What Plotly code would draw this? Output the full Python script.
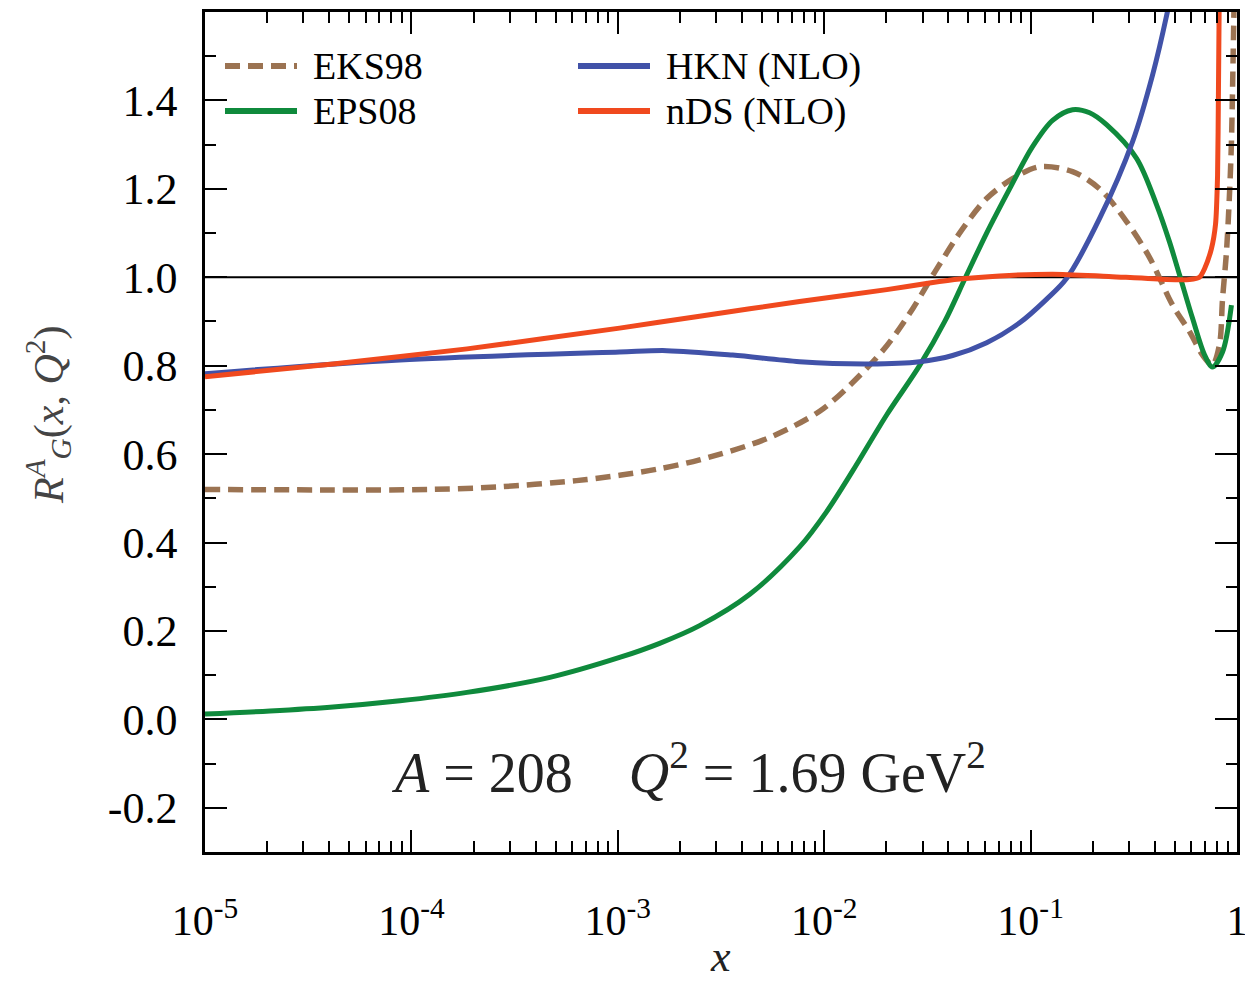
import plotly.graph_objects as go

# ---- data ----
eks_x = [1e-5, 4.03e-5, 1.23e-4, 2.68e-4, 6.3e-4, 1.02e-3, 1.595e-3, 2.49e-3, 5.27e-3, 9.5e-3,
         0.01374, 0.0201, 0.02685, 0.0351, 0.0469, 0.0612, 0.0818, 0.1106, 0.1596, 0.216,
         0.2917, 0.3766, 0.4875, 0.589, 0.681, 0.760, 0.822, 0.851, 0.889, 0.921, 0.940,
         0.951, 0.962, 0.973]
eks_y = [0.520, 0.519, 0.520, 0.526, 0.540, 0.552, 0.567, 0.587, 0.635, 0.697,
         0.762, 0.845, 0.929, 1.019, 1.110, 1.178, 1.223, 1.250, 1.239, 1.200,
         1.126, 1.045, 0.937, 0.877, 0.824, 0.802, 0.847, 0.951, 1.057, 1.194, 1.307,
         1.42, 1.55, 1.68]

eps_x = [1e-5, 2.065e-5, 4.17e-5, 8.8e-5, 1.86e-4, 4.69e-4, 1.02e-3, 1.595e-3, 2.49e-3, 4.36e-3,
         7.6e-3, 0.01028, 0.01374, 0.0201, 0.02897, 0.03837, 0.04842, 0.06124, 0.0791, 0.102,
         0.1278, 0.1596, 0.1932, 0.2333, 0.326, 0.407, 0.471, 0.527, 0.610, 0.697, 0.760,
         0.851, 0.940]
eps_y = [0.012, 0.019, 0.028, 0.042, 0.061, 0.095, 0.140, 0.172, 0.212, 0.283,
         0.390, 0.470, 0.562, 0.689, 0.800, 0.900, 1.000, 1.100, 1.200, 1.295,
         1.355, 1.379, 1.372, 1.345, 1.269, 1.165, 1.080, 1.005, 0.906, 0.824, 0.797,
         0.831, 0.937]

hkn_x = [1e-5, 8.8e-5, 1.02e-3, 1.73e-3, 3.6e-3, 7.6e-3, 0.0166, 0.02897, 0.04188, 0.06124,
         0.0885, 0.1193, 0.1492, 0.2159, 0.312, 0.390, 0.456, 0.482]
hkn_y = [0.782, 0.813, 0.831, 0.834, 0.824, 0.809, 0.804, 0.809, 0.823, 0.852,
         0.897, 0.950, 0.997, 1.133, 1.307, 1.458, 1.592, 1.65]

nds_x = [1e-5, 4.17e-5, 1.86e-4, 1.02e-3, 2.49e-3, 7.6e-3, 0.0201, 0.0324, 0.0453, 0.0708,
         0.1278, 0.216, 0.456, 0.589, 0.658, 0.697, 0.752, 0.787, 0.805, 0.813, 0.822]
nds_y = [0.775, 0.804, 0.838, 0.885, 0.912, 0.945, 0.972, 0.987, 0.996, 1.003,
         1.007, 1.003, 0.995, 0.995, 1.0, 1.02, 1.065, 1.12, 1.23, 1.42, 1.68]

colors = {"EKS98": "#9b7352", "EPS08": "#0f8a3c", "HKN (NLO)": "#4152a8", "nDS (NLO)": "#f0491e"}

x_tickvals = [1e-5, 1e-4, 1e-3, 1e-2, 1e-1, 1]
x_ticktext = ["10<sup>-5</sup>", "10<sup>-4</sup>", "10<sup>-3</sup>", "10<sup>-2</sup>", "10<sup>-1</sup>", "1"]
y_tickvals = [-0.2, 0.0, 0.2, 0.4, 0.6, 0.8, 1.0, 1.2, 1.4]
y_ticktext = ["-0.2", "0.0", "0.2", "0.4", "0.6", "0.8", "1.0", "1.2", "1.4"]

FONT = "Liberation Serif"
DASH = "15px,8px"

fig = go.Figure()
fig.add_trace(go.Scatter(x=eks_x, y=eks_y, mode="lines", name="EKS98",
                         line=dict(color=colors["EKS98"], width=5.5, dash=DASH, shape="spline", smoothing=0.9)))
fig.add_trace(go.Scatter(x=eps_x, y=eps_y, mode="lines", name="EPS08",
                         line=dict(color=colors["EPS08"], width=5, shape="spline", smoothing=0.9)))
fig.add_trace(go.Scatter(x=hkn_x, y=hkn_y, mode="lines", name="HKN (NLO)",
                         line=dict(color=colors["HKN (NLO)"], width=5, shape="spline", smoothing=0.9)))
fig.add_trace(go.Scatter(x=nds_x, y=nds_y, mode="lines", name="nDS (NLO)",
                         line=dict(color=colors["nDS (NLO)"], width=5, shape="spline", smoothing=0.6)))

# reference line at 1
fig.add_shape(type="line", xref="paper", x0=0, x1=1, yref="y", y0=1.0, y1=1.0,
              line=dict(color="black", width=2), layer="below")

minor_x = [m * 10.0 ** e for e in range(-5, 0) for m in range(2, 10)]

fig.update_xaxes(type="log", range=[-5, 0], tickmode="array", tickvals=x_tickvals, ticktext=x_ticktext,
                 ticks="inside", ticklen=22, tickwidth=2, tickcolor="black",
                 minor=dict(tickmode="array", tickvals=minor_x, ticks="inside", ticklen=11, tickwidth=1.5,
                            tickcolor="black"),
                 showline=True, linewidth=2.5, linecolor="black", mirror="ticks",
                 showgrid=False, zeroline=False, ticklabelstandoff=30, automargin=False,
                 ticklabeloverflow="allow",
                 tickfont=dict(family=FONT, size=42, color="black"))
fig.update_yaxes(range=[-0.3, 1.6], tickmode="array", tickvals=y_tickvals, ticktext=y_ticktext,
                 ticks="inside", ticklen=22, tickwidth=2, tickcolor="black",
                 minor=dict(dtick=0.1, tick0=0, ticks="inside", ticklen=11, tickwidth=1.5, tickcolor="black"),
                 showline=True, linewidth=2.5, linecolor="black", mirror="ticks",
                 showgrid=False, zeroline=False, ticklabelstandoff=16, automargin=False,
                 ticklabeloverflow="allow",
                 tickfont=dict(family=FONT, size=44, color="black"))

# manual legend (paper coordinates)
L, R, T, B = 205, 1237, 12, 852
def px(xp):
    return (xp - L) / (R - L)
def py(yp):
    return (B - yp) / (B - T)

legend_items = [("EKS98", 225, 66), ("EPS08", 225, 111), ("HKN (NLO)", 578, 66), ("nDS (NLO)", 578, 111)]
for name, x0, y0 in legend_items:
    dash = DASH if name == "EKS98" else "solid"
    fig.add_shape(type="line", xref="paper", yref="paper", x0=px(x0), x1=px(x0 + 72), y0=py(y0), y1=py(y0),
                  line=dict(color=colors[name], width=6, dash=dash))
    fig.add_annotation(xref="paper", yref="paper", x=px(x0 + 86), y=py(y0), text=name, showarrow=False,
                       xanchor="left", yanchor="middle", font=dict(family=FONT, size=38, color="black"))

fig.add_annotation(xref="paper", yref="paper", x=px(688), y=py(768),
                   text="<i>A</i> = 208    <i>Q</i><sup>2</sup> = 1.69 GeV<sup>2</sup>",
                   showarrow=False, xanchor="center", yanchor="middle",
                   font=dict(family=FONT, size=56, color="#222222"))

fig.add_annotation(xref="paper", yref="paper", x=px(48), y=py(415), textangle=-90,
                   text="<i>R</i><sup><i>A</i></sup><sub><i>G</i></sub>(<i>x</i>, <i>Q</i><sup>2</sup>)",
                   showarrow=False, xanchor="center", yanchor="middle",
                   font=dict(family=FONT, size=42, color="#444444"))

fig.add_annotation(xref="paper", yref="paper", x=px(720), y=py(956), text="<i>x</i>",
                   showarrow=False, xanchor="center", yanchor="middle",
                   font=dict(family=FONT, size=44, color="#222222"))

fig.update_layout(width=1245, height=986, margin=dict(l=L, r=1245 - R, t=T, b=986 - B),
                  paper_bgcolor="white", plot_bgcolor="white", showlegend=False)

fig.write_html("out.html")
